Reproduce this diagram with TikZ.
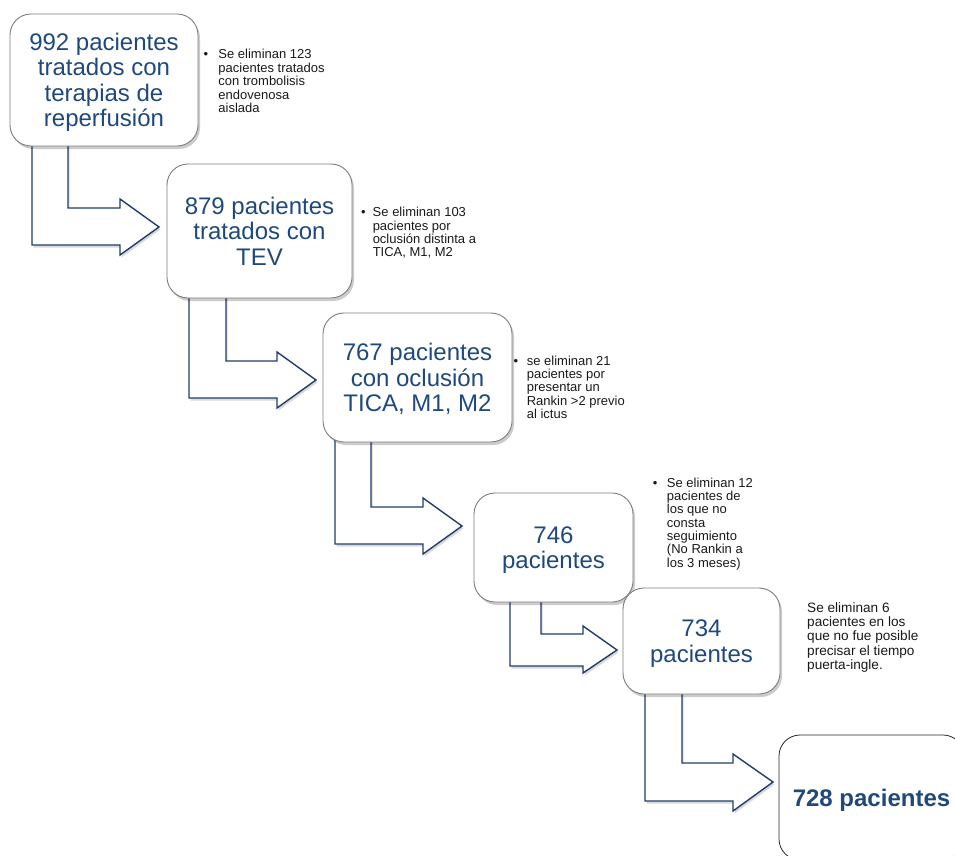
\documentclass[tikz,border=0pt]{standalone}
\usepackage{fontspec}
\setmainfont{Liberation Sans}
\usetikzlibrary{shadows,calc}
\definecolor{txtblue}{RGB}{31,73,125}
\definecolor{arrblue}{RGB}{33,61,108}
\definecolor{boxgray}{RGB}{125,125,125}
\pgfdeclarelayer{background}
\pgfsetlayers{background,main}
\begin{document}
\begin{tikzpicture}[x=1pt,y=-1pt,
  stagebox/.style={draw=boxgray, line width=0.9pt, fill=white, rounded corners=21pt,
    align=center, text=txtblue, font=\fontsize{24}{25.5}\selectfont, inner sep=0pt, text depth=0pt,
    drop shadow={shadow xshift=2pt, shadow yshift=-3pt, fill=black, opacity=0.2}},
  finalbox/.style={draw=black!85, line width=0.8pt, fill=white, rounded corners=21pt,
    align=center, text=txtblue, font=\fontsize{24}{26}\selectfont\bfseries, inner sep=0pt, text depth=0pt},
  note/.style={anchor=base west, inner sep=0pt, font=\fontsize{13}{13.3}\selectfont, text=black!90},
  bentarrow/.style={draw=arrblue, line width=1.4pt, fill=white, line join=miter,
    drop shadow={shadow xshift=1.5pt, shadow yshift=-2.5pt, fill=black, opacity=0.15}}]

\path[use as bounding box] (0,0) rectangle (955,856);
\clip (0,0) rectangle (955,856);

% boxes
\node[stagebox, minimum width=188pt, minimum height=132pt] (b1) at (104,80)
  {992 pacientes\\tratados con\\terapias de\\reperfusión};
\node[stagebox, minimum width=185pt, minimum height=134pt] (b2) at (259.5,231)
  {879 pacientes\\tratados con\\TEV};
\node[stagebox, minimum width=189pt, minimum height=129pt] (b3) at (417.5,377.5)
  {767 pacientes\\con oclusión\\TICA, M1, M2};
\node[stagebox, minimum width=159pt, minimum height=109pt] (b4) at (553.5,547.5)
  {746\\pacientes};
\node[stagebox, minimum width=157pt, minimum height=106pt] (b5) at (701.5,641)
  {734\\pacientes};
\node[finalbox, minimum width=185pt, minimum height=125pt] (b6) at (871.5,797.5)
  {728 pacientes};

% bent block arrows
\begin{pgfonlayer}{background}
\draw[bentarrow] ($(32,0 |- b1.south)+(0,-4)$) -- (32,245) -- (120,245) -- (120,255)
  -- (159,227) -- (120,199) -- (120,208) -- (68,208) -- ($(68,0 |- b1.south)+(0,-4)$);
\draw[bentarrow] ($(189,0 |- b2.south)+(0,-4)$) -- (189,398) -- (277,398) -- (277,408)
  -- (316,380) -- (277,352) -- (277,361) -- (226,361) -- ($(226,0 |- b2.south)+(0,-4)$);
\draw[bentarrow] ($(335,0 |- b3.south)+(0,-4)$) -- (335,544) -- (423,544) -- (423,554)
  -- (462,526) -- (423,498) -- (423,507) -- (371,507) -- ($(371,0 |- b3.south)+(0,-4)$);
\draw[bentarrow] ($(510,0 |- b4.south)+(0,-4)$) -- (510,666) -- (583,666) -- (583,673)
  -- (617,650) -- (583,626) -- (583,634) -- (541,634) -- ($(541,0 |- b4.south)+(0,-4)$);
\draw[bentarrow] ($(645,0 |- b5.south)+(0,-4)$) -- (645,801) -- (733,801) -- (733,811)
  -- (773,782) -- (733,754) -- (733,763) -- (682,763) -- ($(682,0 |- b5.south)+(0,-4)$);
\end{pgfonlayer}

% side notes
\node[note] (n1) at (203.4,59) {\begin{tabular}[t]{@{}l@{\hspace{10.3pt}}l@{}}\textbullet & Se eliminan 123\\
  & pacientes tratados\\ & con trombolisis\\ & endovenosa\\ & aislada\end{tabular}};
\node[note] (n2) at (361,216.7) {\begin{tabular}[t]{@{}l@{\hspace{7pt}}l@{}}\textbullet & Se eliminan 103\\
  & pacientes por\\ & oclusión distinta a\\ & TICA, M1, M2\end{tabular}};
\node[note] (n3) at (513.4,365) {\begin{tabular}[t]{@{}l@{\hspace{8.7pt}}l@{}}\textbullet & se eliminan 21\\
  & pacientes por\\ & presentar un\\ & Rankin >2 previo\\ & al ictus\end{tabular}};
\node[note] (n4) at (652.7,487) {\begin{tabular}[t]{@{}l@{\hspace{9.5pt}}l@{}}\textbullet & Se eliminan 12\\
  & pacientes de\\ & los que no\\ & consta\\ & seguimiento\\ & (No Rankin a\\ & los 3 meses)\end{tabular}};
\node[note, font=\fontsize{13.6}{14.2}\selectfont] (n5) at (807,612.5) {\begin{tabular}[t]{@{}l@{}}Se eliminan 6\\
  pacientes en los\\ que no fue posible\\ precisar el tiempo\\ puerta-ingle.\end{tabular}};
\end{tikzpicture}
\end{document}
